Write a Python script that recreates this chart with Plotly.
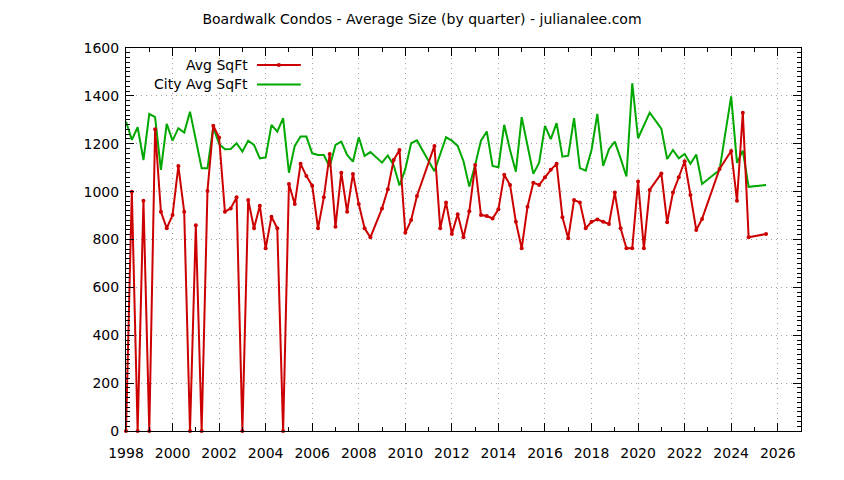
import plotly.graph_objects as go

# ---- data ----
avg_x = [1998.0, 1998.25, 1998.5, 1998.75, 1999.0, 1999.25, 1999.5, 1999.75,
         2000.0, 2000.25, 2000.5, 2000.75, 2001.0, 2001.25, 2001.5, 2001.75,
         2002.0, 2002.25, 2002.5, 2002.75, 2003.0, 2003.25, 2003.5, 2003.75,
         2004.0, 2004.25, 2004.5, 2004.75, 2005.0, 2005.25, 2005.5, 2005.75,
         2006.0, 2006.25, 2006.5, 2006.75, 2007.0, 2007.25, 2007.5, 2007.75,
         2008.0, 2008.25, 2008.5, 2009.0, 2009.25, 2009.5, 2009.75,
         2010.0, 2010.25, 2010.5, 2011.25, 2011.5, 2011.75,
         2012.0, 2012.25, 2012.5, 2012.75, 2013.0, 2013.25, 2013.5, 2013.75,
         2014.0, 2014.25, 2014.5, 2014.75, 2015.0, 2015.25, 2015.5, 2015.75,
         2016.0, 2016.25, 2016.5, 2016.75, 2017.0, 2017.25, 2017.5, 2017.75,
         2018.0, 2018.25, 2018.5, 2018.75, 2019.0, 2019.25, 2019.5, 2019.75,
         2020.0, 2020.25, 2020.5, 2021.0, 2021.25, 2021.5, 2021.75,
         2022.0, 2022.25, 2022.5, 2022.75, 2023.5,
         2024.0, 2024.25, 2024.5, 2024.75, 2025.5]
avg_sqft = [0, 1000, 0, 962, 0, 1261, 916, 847,
            902, 1107, 916, 0, 860, 0, 1003, 1275,
            1226, 916, 930, 976, 0, 965, 847, 941,
            763, 895, 847, 0, 1032, 948, 1116, 1065,
            1025, 847, 976, 1157, 853, 1079, 916, 1074,
            948, 847, 809, 930, 1010, 1132, 1174,
            828, 881, 982, 1191, 847, 955,
            823, 906, 809, 918, 1111, 902, 898, 888,
            926, 1070, 1028, 874, 763, 937, 1037, 1028,
            1060, 1091, 1116, 893, 805, 965, 955, 847,
            874, 884, 874, 865, 996, 847, 763, 763,
            1042, 763, 1007, 1076, 872, 996, 1060,
            1127, 986, 840, 886, 1095,
            1170, 962, 1330, 809, 823]

city_x = [1998.0, 1998.25, 1998.5, 1998.75, 1999.0, 1999.25, 1999.5, 1999.75,
          2000.0, 2000.25, 2000.5, 2000.75, 2001.0, 2001.25, 2001.5, 2001.75,
          2002.0, 2002.25, 2002.5, 2002.75, 2003.0, 2003.25, 2003.5, 2003.75,
          2004.0, 2004.25, 2004.5, 2004.75, 2005.0, 2005.25, 2005.5, 2005.75,
          2006.0, 2006.25, 2006.5, 2006.75, 2007.0, 2007.25, 2007.5, 2007.75,
          2008.0, 2008.25, 2008.5, 2009.0, 2009.25, 2009.5, 2009.75,
          2010.0, 2010.25, 2010.5, 2011.25, 2011.75,
          2012.0, 2012.25, 2012.5, 2012.75, 2013.0, 2013.25, 2013.5, 2013.75,
          2014.0, 2014.25, 2014.5, 2014.75, 2015.0, 2015.25, 2015.5, 2015.75,
          2016.0, 2016.25, 2016.5, 2016.75, 2017.0, 2017.25, 2017.5, 2017.75,
          2018.0, 2018.25, 2018.5, 2018.75, 2019.0, 2019.25, 2019.5, 2019.75,
          2020.0, 2020.5, 2021.0, 2021.25, 2021.5, 2021.75,
          2022.0, 2022.25, 2022.5, 2022.75, 2023.5,
          2024.0, 2024.25, 2024.5, 2024.75, 2025.5]
city_sqft = [1293, 1216, 1269, 1132, 1325, 1311, 1091, 1283,
             1213, 1265, 1247, 1334, 1216, 1098, 1098, 1269,
             1199, 1177, 1178, 1202, 1167, 1213, 1195, 1139,
             1143, 1279, 1251, 1307, 1079, 1191, 1230, 1230,
             1160, 1153, 1153, 1104, 1195, 1209, 1153, 1125,
             1227, 1149, 1165, 1121, 1151, 1110, 1026,
             1094, 1202, 1214, 1085, 1227,
             1213, 1191, 1127, 1021, 1111, 1213, 1251, 1107,
             1102, 1279, 1174, 1083, 1311, 1191, 1074, 1121,
             1275, 1219, 1286, 1146, 1150, 1307, 1098, 1088,
             1174, 1325, 1107, 1177, 1209, 1139, 1063, 1453,
             1223, 1330, 1263, 1136, 1174, 1139,
             1157, 1116, 1155, 1032, 1090,
             1398, 1120, 1171, 1020, 1028]

series_names = ["Avg SqFt", "City Avg SqFt"]
title_text = "Boardwalk Condos - Average Size (by quarter) - julianalee.com"

RED = "#cc0000"
GREEN = "#00a800"
FONT = "DejaVu Sans"

fig = go.Figure()
fig.add_trace(go.Scatter(x=city_x, y=city_sqft, mode="lines", name=series_names[1],
                         line=dict(color=GREEN, width=2), showlegend=False))
fig.add_trace(go.Scatter(x=avg_x, y=avg_sqft, mode="lines+markers", name=series_names[0],
                         line=dict(color=RED, width=2),
                         marker=dict(color=RED, size=4, symbol="circle"),
                         cliponaxis=False, showlegend=False))

axis_common = dict(showline=True, linecolor="black", linewidth=1, mirror="allticks",
                   ticks="inside", ticklen=8, tickwidth=1, tickcolor="black",
                   showgrid=True, gridcolor="#a0a0a0", griddash="1px,4px", gridwidth=1,
                   zeroline=False, tickfont=dict(family=FONT, size=14, color="black"))

fig.update_xaxes(range=[1998, 2027], tick0=1998, dtick=2, ticklabelstandoff=9, **axis_common,
                 minor=dict(dtick=1, ticks="inside", ticklen=4, tickcolor="black", showgrid=False))
fig.update_yaxes(range=[0, 1600], tick0=0, dtick=200, ticklabelstandoff=3, **axis_common,
                 minor=dict(dtick=20, ticks="inside", ticklen=4, tickcolor="black", showgrid=False))

# legend drawn gnuplot-style: text right-aligned, sample to the right
leg_text_x = 0.184
leg_line = (0.194, 0.259)
leg_rows = [0.9556, 0.905]
for name, yy, col in [(series_names[0], leg_rows[0], RED), (series_names[1], leg_rows[1], GREEN)]:
    fig.add_annotation(x=leg_text_x, y=yy, xref="paper", yref="paper", text=name,
                       showarrow=False, xanchor="right", yanchor="middle",
                       font=dict(family=FONT, size=14, color="black"))
    fig.add_shape(type="line", xref="paper", yref="paper", x0=leg_line[0], x1=leg_line[1],
                  y0=yy, y1=yy, line=dict(color=col, width=2))
mx = (leg_line[0] + leg_line[1]) / 2
fig.add_shape(type="circle", xref="paper", yref="paper",
              x0=mx - 0.003, x1=mx + 0.003, y0=leg_rows[0] - 0.0052, y1=leg_rows[0] + 0.0052,
              fillcolor=RED, line=dict(color=RED, width=0))

fig.update_layout(
    width=844, height=480,
    margin=dict(l=126, r=43, t=48, b=49),
    paper_bgcolor="white", plot_bgcolor="white",
    title=dict(text=title_text, x=0.5, xref="container", xanchor="center",
               y=1 - 19 / 480, yref="container", yanchor="middle",
               font=dict(family=FONT, size=14, color="black")),
    showlegend=False,
    font=dict(family=FONT, size=14, color="black"),
)

fig.write_html("out.html")
